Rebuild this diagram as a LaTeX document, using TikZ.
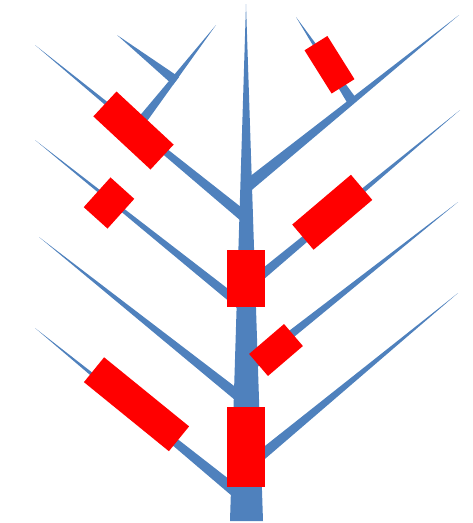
\documentclass[tikz,border=0pt]{standalone}
\usetikzlibrary{calc}
\definecolor{branchblue}{HTML}{4F81BD}
\tikzset{
  redbox/.style={fill=red, draw=none, inner sep=0pt, outer sep=0pt},
  wood/.style={fill=branchblue, draw=none},
}
\newcommand{\taperbranch}[3]{%
  \fill[wood] ($(#1)!#3!90:(#2)$) -- (#2) -- ($(#1)!#3!-90:(#2)$) -- cycle;}
\begin{document}
\begin{tikzpicture}[x=1pt,y=-1pt]
\useasboundingbox (0,0) rectangle (473,523);
% branch tips and bases
\coordinate (l1b) at (246,218); \coordinate (l1t) at (35,45);
\coordinate (l1sb) at (136,128); \coordinate (l1st) at (216,25);
\coordinate (twb) at (176,81); \coordinate (twt) at (117,35);
\coordinate (l2b) at (246,309); \coordinate (l2t) at (35,140);
\coordinate (l3b) at (246,402); \coordinate (l3t) at (39,237);
\coordinate (l4b) at (246,500); \coordinate (l4t) at (35,328);
\coordinate (r1b) at (246,187); \coordinate (r1t) at (459,15);
\coordinate (r1sb) at (352,101); \coordinate (r1st) at (296,17);
\coordinate (r2b) at (246,288); \coordinate (r2t) at (460,110);
\coordinate (r3b) at (246,370); \coordinate (r3t) at (458,202);
\coordinate (r4b) at (246,468); \coordinate (r4t) at (458,293);
\taperbranch{l1b}{l1t}{5.5pt}
\taperbranch{l1sb}{l1st}{5pt}
\taperbranch{twb}{twt}{5pt}
\taperbranch{l2b}{l2t}{5pt}
\taperbranch{l3b}{l3t}{5.5pt}
\taperbranch{l4b}{l4t}{6pt}
\taperbranch{r1b}{r1t}{6pt}
\taperbranch{r1sb}{r1st}{5pt}
\taperbranch{r2b}{r2t}{5pt}
\taperbranch{r3b}{r3t}{5pt}
\taperbranch{r4b}{r4t}{5.5pt}
% trunk
\coordinate (trl) at (230,521); \coordinate (trr) at (263,521); \coordinate (trt) at (246,4);
\fill[wood] (trl) -- (trr) -- (trt) -- cycle;
% red boxes
\node[redbox, minimum width=38pt, minimum height=57pt] (ba) at (246,278.5) {};
\node[redbox, minimum width=38pt, minimum height=80pt] (bb) at (246,447) {};
\node[redbox, minimum width=78pt, minimum height=34pt, rotate=-42.9] (bc) at (133.5,130.5) {};
\node[redbox, minimum width=40pt, minimum height=32pt, rotate=48] (bd) at (109,203) {};
\node[redbox, minimum width=51pt, minimum height=27pt, rotate=-57.9] (be) at (329.5,64.75) {};
\node[redbox, minimum width=77pt, minimum height=33pt, rotate=40.3] (bf) at (332.25,212.25) {};
\node[redbox, minimum width=46pt, minimum height=29pt, rotate=40.6] (bg) at (276,350) {};
\node[redbox, minimum width=109.5pt, minimum height=32pt, rotate=-39.1] (bh) at (136.5,404.25) {};
\end{tikzpicture}
\end{document}
